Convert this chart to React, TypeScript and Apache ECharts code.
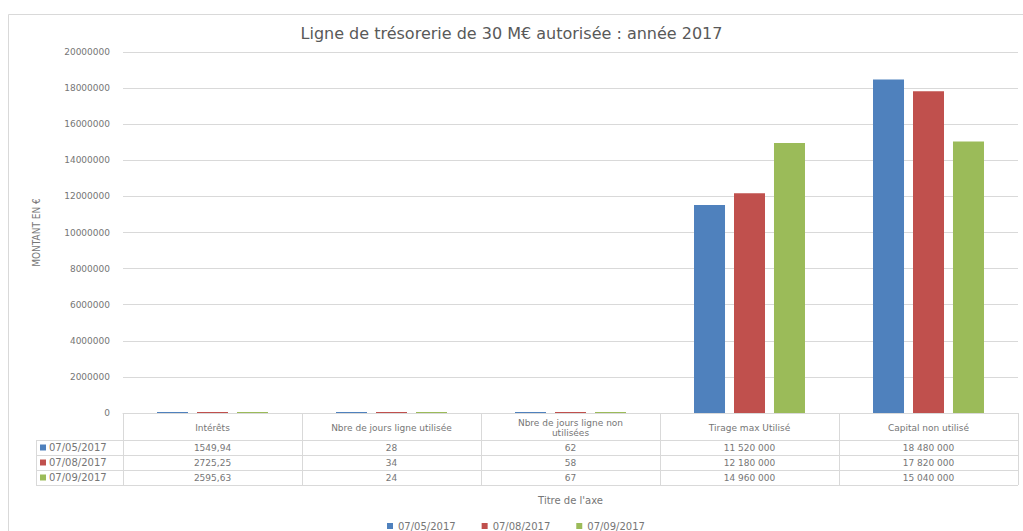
import React, { useEffect, useRef } from "react";
import * as echarts from "echarts";

const TITLE = "Ligne de trésorerie de 30 M€ autorisée : année 2017";
const Y_NAME = "MONTANT EN €";
const X_NAME = "Titre de l'axe";
const categories = [
  "Intérêts",
  "Nbre de jours ligne utilisée",
  "Nbre de jours ligne non utilisées",
  "Tirage max Utilisé",
  "Capital non utilisé",
];
const seriesNames = ["07/05/2017", "07/08/2017", "07/09/2017"];
const values0705 = [1549.94, 28, 62, 11520000, 18480000];
const values0708 = [2725.25, 34, 58, 12180000, 17820000];
const values0709 = [2595.63, 24, 67, 14960000, 15040000];
const colors = ["#4F81BD", "#C0504D", "#9BBB59"];
const yTicks = { min: 0, max: 20000000, interval: 2000000 };

const allValues = [values0705, values0708, values0709];
const FONT = "DejaVu Sans";
const TXT = "#767676";
const LINE = "#d9d9d9";

function fmt(v: number, catIndex: number): string {
  if (catIndex === 0) return v.toFixed(2).replace(".", ",");
  return String(Math.round(v)).replace(/\B(?=(\d{3})+(?!\d))/g, " ");
}

export default function App() {
  const ref = useRef<HTMLDivElement>(null);
  useEffect(() => {
    if (!ref.current) return;
    const chart = echarts.init(ref.current, undefined, { renderer: "svg" });
    const option: any = {
      animation: false,
      backgroundColor: "#ffffff",
      title: {
        text: TITLE,
        left: "center",
        top: 20,
        textStyle: { fontFamily: FONT, fontSize: 16, fontWeight: "normal", color: "#595959" },
      },
      legend: {
        data: seriesNames,
        left: 382,
        top: 516,
        itemWidth: 6,
        itemHeight: 6,
        itemGap: 26,
        icon: "rect",
        textStyle: { fontFamily: FONT, fontSize: 10, color: TXT },
      },
      grid: { left: 123, right: 5, top: 52, bottom: 118 },
      xAxis: {
        type: "category",
        data: categories,
        name: X_NAME,
        nameLocation: "middle",
        nameGap: 82,
        nameTextStyle: { fontFamily: FONT, fontSize: 10, color: TXT },
        axisLine: { lineStyle: { color: LINE } },
        axisTick: { show: true, length: 72, lineStyle: { color: LINE } },
        axisLabel: {
          interval: 0,
          margin: 15,
          verticalAlign: "middle",
          fontFamily: FONT,
          fontSize: 9,
          lineHeight: 10,
          color: TXT,
          formatter: (v: string) =>
            v.length > 30 ? v.replace(/ (\S+)$/, "\n$1") : v,
        },
      },
      yAxis: {
        type: "value",
        min: yTicks.min,
        max: yTicks.max,
        interval: yTicks.interval,
        name: Y_NAME,
        nameLocation: "middle",
        nameGap: 82,
        nameTextStyle: { fontFamily: "DejaVu Sans Condensed", fontSize: 10, color: TXT },
        axisLine: { show: false },
        axisTick: { show: false },
        splitLine: { lineStyle: { color: LINE } },
        axisLabel: {
          margin: 13,
          fontFamily: FONT,
          fontSize: 9,
          color: TXT,
          formatter: (v: number) => String(v),
        },
      },
      series: seriesNames.map((n, i) => ({
        name: n,
        type: "bar",
        data: allValues[i],
        itemStyle: { color: colors[i] },
        barGap: "29%",
        barCategoryGap: "38%",
        barMinHeight: 1,
      })),
    };
    chart.setOption(option);

    const xs = categories.map((c) => chart.convertToPixel({ xAxisIndex: 0 }, c) as number);
    const rowTops = [440, 455, 470, 485];
    const tableLeft = 36;
    const tableRight = 1018;
    const graphics: any[] = [
      {
        type: "rect",
        z: -10,
        shape: { x: 8.5, y: 14.5, width: 1030, height: 600 },
        style: { fill: "none", stroke: LINE, lineWidth: 1 },
      },
      {
        type: "line",
        shape: { x1: tableLeft + 0.5, y1: rowTops[0], x2: tableLeft + 0.5, y2: rowTops[3] },
        style: { stroke: LINE, lineWidth: 1 },
      },
    ];
    rowTops.forEach((y) => {
      graphics.push({
        type: "line",
        shape: { x1: tableLeft, y1: y + 0.5, x2: tableRight, y2: y + 0.5 },
        style: { stroke: LINE, lineWidth: 1 },
      });
    });
    seriesNames.forEach((n, r) => {
      const cy = (rowTops[r] + rowTops[r + 1]) / 2;
      graphics.push({
        type: "rect",
        shape: { x: 40, y: cy - 3, width: 6, height: 6 },
        style: { fill: colors[r] },
      });
      graphics.push({
        type: "text",
        x: 49,
        y: cy,
        style: {
          text: n,
          fontFamily: FONT,
          fontSize: 10,
          fill: TXT,
          align: "left",
          verticalAlign: "middle",
        },
      });
      allValues[r].forEach((v, c) => {
        graphics.push({
          type: "text",
          x: xs[c],
          y: cy,
          style: {
            text: fmt(v, c),
            fontFamily: FONT,
            fontSize: 9,
            fill: TXT,
            align: "center",
            verticalAlign: "middle",
          },
        });
      });
    });
    chart.setOption({ graphic: graphics });

    return () => chart.dispose();
  }, []);
  return (
    <div
      ref={ref}
      style={{ position: "absolute", left: 0, top: 0, width: 1023, height: 531 }}
    />
  );
}
